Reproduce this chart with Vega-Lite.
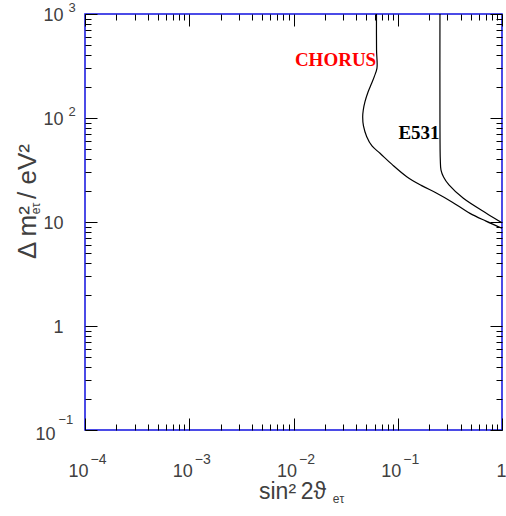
{
  "$schema": "https://vega.github.io/schema/vega-lite/v6.json",
  "width": 417,
  "height": 416,
  "autosize": {"type": "none"},
  "padding": {"left": 85, "top": 14, "right": 4, "bottom": 86},
  "background": "white",
  "config": {
    "view": {"stroke": "#1010e0", "strokeWidth": 1.5},
    "axis": {"grid": false, "domain": false, "labelFont": "Liberation Sans", "titleFont": "Liberation Sans", "labelColor": "#404040", "titleColor": "#404040", "titleFontWeight": "normal"}
  },
  "datasets": {
    "curves": [
      {"series": "CHORUS", "s": 0.0625, "m": 1000},
      {"series": "CHORUS", "s": 0.0626, "m": 450},
      {"series": "CHORUS", "s": 0.0632, "m": 302},
      {"series": "CHORUS", "s": 0.0598, "m": 253},
      {"series": "CHORUS", "s": 0.0562, "m": 216},
      {"series": "CHORUS", "s": 0.0519, "m": 178},
      {"series": "CHORUS", "s": 0.0485, "m": 143.5},
      {"series": "CHORUS", "s": 0.0467, "m": 119.4},
      {"series": "CHORUS", "s": 0.0461, "m": 102.3},
      {"series": "CHORUS", "s": 0.0469, "m": 83.8},
      {"series": "CHORUS", "s": 0.0504, "m": 66.1},
      {"series": "CHORUS", "s": 0.0566, "m": 53.8},
      {"series": "CHORUS", "s": 0.0676, "m": 45.8},
      {"series": "CHORUS", "s": 0.0881, "m": 35.8},
      {"series": "CHORUS", "s": 0.122, "m": 27.3},
      {"series": "CHORUS", "s": 0.168, "m": 22.5},
      {"series": "CHORUS", "s": 0.2366, "m": 18.9},
      {"series": "CHORUS", "s": 0.331, "m": 15.6},
      {"series": "CHORUS", "s": 0.493, "m": 12.1},
      {"series": "CHORUS", "s": 0.703, "m": 10.2},
      {"series": "CHORUS", "s": 1.0, "m": 8.7},
      {"series": "E531", "s": 0.254, "m": 1000},
      {"series": "E531", "s": 0.254, "m": 95.7},
      {"series": "E531", "s": 0.256, "m": 39.5},
      {"series": "E531", "s": 0.260, "m": 31.6},
      {"series": "E531", "s": 0.275, "m": 27.1},
      {"series": "E531", "s": 0.310, "m": 22.7},
      {"series": "E531", "s": 0.426, "m": 16.9},
      {"series": "E531", "s": 0.713, "m": 12.1},
      {"series": "E531", "s": 1.0, "m": 9.85}
    ],
    "labels": [
      {"label": "CHORUS", "s": 0.0253, "m": 361},
      {"label": "E531", "s": 0.160, "m": 71.8}
    ]
  },
  "layer": [
    {
      "data": {"name": "curves"},
      "transform": [{"filter": "datum.series == 'CHORUS'"}],
      "mark": {"type": "line", "color": "black", "strokeWidth": 1.2, "interpolate": "catmull-rom"},
      "encoding": {
        "order": {"field": "m", "type": "quantitative", "sort": "descending"},
        "x": {"field": "s", "type": "quantitative",
          "scale": {"type": "log", "domain": [0.0001, 1], "nice": false},
          "axis": {"orient": "bottom", "labels": false, "title": null, "ticks": true, "tickColor": "black", "tickWidth": 1,
            "values": [0.0001,0.0002,0.0003,0.0004,0.0005,0.0006,0.0007,0.0008,0.0009,0.001,0.002,0.003,0.004,0.005,0.006,0.007,0.008,0.009,0.01,0.02,0.03,0.04,0.05,0.06,0.07,0.08,0.09,0.1,0.2,0.3,0.4,0.5,0.6,0.7,0.8,0.9,1],
            "tickSize": {"condition": {"test": "abs(log(datum.value)/LN10 - round(log(datum.value)/LN10)) < 0.001", "value": -12}, "value": -6}}},
        "y": {"field": "m", "type": "quantitative",
          "scale": {"type": "log", "domain": [0.1, 1000], "nice": false},
          "axis": {"orient": "left", "labels": false, "title": null, "ticks": true, "tickColor": "black", "tickWidth": 1,
            "values": [0.1,0.2,0.3,0.4,0.5,0.6,0.7,0.8,0.9,1,2,3,4,5,6,7,8,9,10,20,30,40,50,60,70,80,90,100,200,300,400,500,600,700,800,900,1000],
            "tickSize": {"condition": {"test": "abs(log(datum.value)/LN10 - round(log(datum.value)/LN10)) < 0.001", "value": -12}, "value": -6}}}
      }
    },
    {
      "data": {"name": "curves"},
      "transform": [{"filter": "datum.series == 'E531'"}],
      "mark": {"type": "line", "color": "black", "strokeWidth": 1.2, "interpolate": "catmull-rom"},
      "encoding": {
        "order": {"field": "m", "type": "quantitative", "sort": "descending"},
        "x": {"field": "s", "type": "quantitative",
          "scale": {"type": "log", "domain": [0.0001, 1], "nice": false},
          "axis": {"orient": "top", "labels": false, "title": null, "ticks": true, "tickColor": "black", "tickWidth": 1,
            "values": [0.0001,0.0002,0.0003,0.0004,0.0005,0.0006,0.0007,0.0008,0.0009,0.001,0.002,0.003,0.004,0.005,0.006,0.007,0.008,0.009,0.01,0.02,0.03,0.04,0.05,0.06,0.07,0.08,0.09,0.1,0.2,0.3,0.4,0.5,0.6,0.7,0.8,0.9,1],
            "tickSize": {"condition": {"test": "abs(log(datum.value)/LN10 - round(log(datum.value)/LN10)) < 0.001", "value": -12}, "value": -6}}},
        "y": {"field": "m", "type": "quantitative",
          "scale": {"type": "log", "domain": [0.1, 1000], "nice": false},
          "axis": {"orient": "right", "labels": false, "title": null, "ticks": true, "tickColor": "black", "tickWidth": 1,
            "values": [0.1,0.2,0.3,0.4,0.5,0.6,0.7,0.8,0.9,1,2,3,4,5,6,7,8,9,10,20,30,40,50,60,70,80,90,100,200,300,400,500,600,700,800,900,1000],
            "tickSize": {"condition": {"test": "abs(log(datum.value)/LN10 - round(log(datum.value)/LN10)) < 0.001", "value": -12}, "value": -6}}}
      }
    },
    {
      "data": {"name": "labels"},
      "transform": [{"filter": "datum.label == 'CHORUS'"}],
      "mark": {"type": "text", "color": "#ff0000", "font": "Liberation Serif", "fontWeight": "bold", "fontSize": 19, "align": "center", "baseline": "middle"},
      "encoding": {
        "text": {"field": "label"},
        "x": {"field": "s", "type": "quantitative",
          "scale": {"type": "log", "domain": [0.0001, 1], "nice": false},
          "axis": {"orient": "bottom", "ticks": false, "values": [0.0001, 0.001, 0.01, 0.1, 1],
            "labelExpr": "datum.value == 1 ? '1' : '10'",
            "labelFontSize": 18, "labelBaseline": "top", "labelPadding": 32,
            "labelAlign": {"condition": {"test": "datum.value == 1", "value": "center"}, "value": "right"},
            "labelOffset": {"condition": {"test": "datum.value == 1", "value": -1}, "value": 3},
            "labelFlush": false, "labelOverlap": false,
            "title": "sin²\u20092ϑ", "titleFontSize": 23, "titleX": 207, "titleY": 68, "titleAlign": "center", "titleBaseline": "alphabetic", "titleAnchor": null}},
        "y": {"field": "m", "type": "quantitative",
          "scale": {"type": "log", "domain": [0.1, 1000], "nice": false},
          "axis": {"orient": "left", "ticks": false, "values": [0.1, 1, 10, 100, 1000],
            "labelExpr": "datum.value == 1 ? '1' : '10'",
            "labelFontSize": 18, "labelBaseline": "middle", "labelAlign": "right",
            "labelPadding": {"condition": {"test": "datum.value < 0.5", "value": 30}, "value": 22},
            "labelOffset": {"condition": {"test": "datum.value < 0.5", "value": 4}, "value": 1},
            "labelFlush": false, "labelOverlap": false,
            "title": "Δ\u2009m²   / eV²", "titleFontSize": 26, "titleX": -50, "titleY": 187, "titleAngle": -90, "titleAlign": "center", "titleBaseline": "alphabetic", "titleAnchor": null}}
      }
    },
    {
      "data": {"name": "labels"},
      "transform": [{"filter": "datum.label == 'E531'"}],
      "mark": {"type": "text", "color": "black", "font": "Liberation Serif", "fontWeight": "bold", "fontSize": 19, "align": "center", "baseline": "middle"},
      "encoding": {
        "text": {"field": "label"},
        "x": {"field": "s", "type": "quantitative",
          "scale": {"type": "log", "domain": [0.0001, 1], "nice": false},
          "axis": {"orient": "bottom", "ticks": false, "values": [0.0001, 0.001, 0.01, 0.1],
            "labelExpr": "'−' + format(-round(log(datum.value)/LN10), 'd')",
            "labelFontSize": 14, "labelBaseline": "top", "labelPadding": 22, "labelAlign": "left", "labelOffset": 5,
            "labelFlush": false, "labelOverlap": false,
            "title": "eτ", "titleFontSize": 12, "titleX": 253, "titleY": 72, "titleAlign": "center", "titleBaseline": "alphabetic", "titleAnchor": null}},
        "y": {"field": "m", "type": "quantitative",
          "scale": {"type": "log", "domain": [0.1, 1000], "nice": false},
          "axis": {"orient": "left", "ticks": false, "values": [0.1, 100, 1000],
            "labelExpr": "datum.value == 1000 ? '3' : datum.value == 100 ? '2' : '−1'",
            "labelFontSize": 13, "labelBaseline": "middle", "labelAlign": "left",
            "labelPadding": {"condition": {"test": "datum.value < 0.5", "value": 27}, "value": 17},
            "labelOffset": {"condition": {"test": "datum.value < 0.5", "value": -11}, "value": -7},
            "labelFlush": false, "labelOverlap": false,
            "title": "eτ", "titleFontSize": 12, "titleX": -46, "titleY": 194, "titleAngle": -90, "titleAlign": "center", "titleBaseline": "alphabetic", "titleAnchor": null}}
      }
    }
  ],
  "resolve": {"axis": {"x": "independent", "y": "independent"}}
}
